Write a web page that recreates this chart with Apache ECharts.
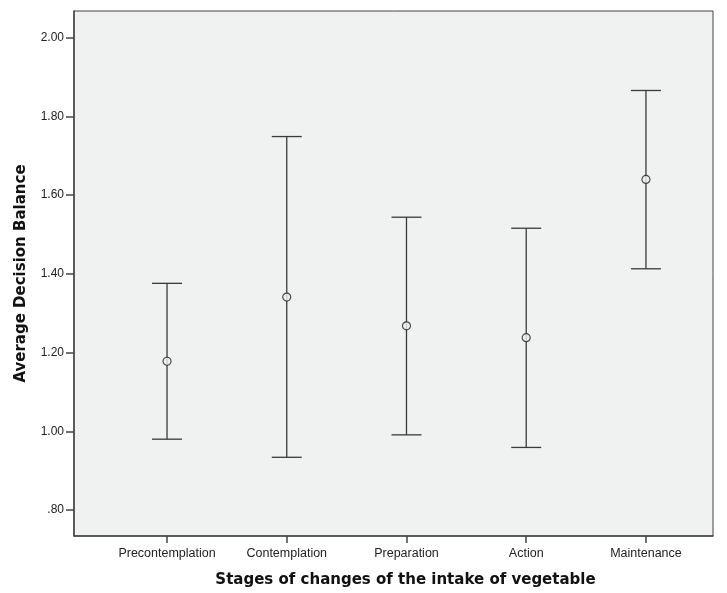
<!DOCTYPE html>
<html>
<head>
<meta charset="utf-8">
<script src="https://cdn.jsdelivr.net/npm/echarts@6/dist/echarts.min.js"></script>
<style>html,body{margin:0;padding:0;background:#fff;}#c{width:727px;height:593px;}</style>
</head>
<body>
<div id="c"></div>
<script>
const categories = ['Precontemplation', 'Contemplation', 'Preparation', 'Action', 'Maintenance'];
const means = [1.178, 1.341, 1.268, 1.238, 1.640];
const lower = [0.980, 0.934, 0.991, 0.959, 1.413];
const upper = [1.376, 1.749, 1.544, 1.516, 1.866];
const yTicks = [0.8, 1.0, 1.2, 1.4, 1.6, 1.8, 2.0];
const xTicks = [0, 1, 2, 3, 4];

const chart = echarts.init(document.getElementById('c'));
const lineColor = '#3a3a3a';
const errData = categories.map((c, i) => [i, lower[i], upper[i]]);
const meanData = categories.map((c, i) => [i, means[i]]);

chart.setOption({
  animation: false,
  grid: {
    left: 74, top: 11, right: 14, bottom: 55,
    show: true, backgroundColor: '#f0f1f1', borderColor: '#444', borderWidth: 1
  },
  xAxis: {
    type: 'value', min: -0.777, max: 4.56,
    splitLine: { show: false },
    axisLine: { show: true, onZero: false, lineStyle: { color: '#444', width: 1.5 } },
    axisTick: { show: true, customValues: xTicks, length: 7, lineStyle: { color: '#444', width: 1.5 } },
    axisLabel: {
      customValues: xTicks, color: '#222', fontSize: 12.5, fontFamily: 'Liberation Sans, Arial', margin: 11,
      formatter: v => categories[Math.round(v)]
    },
    name: 'Stages of changes of the intake of vegetable',
    nameLocation: 'middle', nameGap: 37,
    nameTextStyle: { fontSize: 15, fontWeight: 'bold', color: '#111', fontFamily: 'DejaVu Sans, Verdana', padding: [0, 0, 0, 24] }
  },
  yAxis: {
    type: 'value', min: 0.734, max: 2.068,
    splitLine: { show: false },
    axisLine: { show: true, onZero: false, lineStyle: { color: '#444', width: 1.5 } },
    axisTick: { show: true, customValues: yTicks, length: 8, lineStyle: { color: '#444', width: 1.5 } },
    axisLabel: {
      customValues: yTicks, color: '#222', fontSize: 12, fontFamily: 'Liberation Sans, Arial', margin: 10,
      formatter: v => { const s = v.toFixed(2); return s.startsWith('0') ? s.slice(1) : s; }
    },
    name: 'Average Decision Balance',
    nameLocation: 'middle', nameGap: 45,
    nameTextStyle: { fontSize: 15, fontWeight: 'bold', color: '#111', fontFamily: 'DejaVu Sans, Verdana' }
  },
  series: [
    {
      type: 'custom',
      data: errData,
      renderItem: function (params, api) {
        const x = api.value(0);
        const lo = api.coord([x, api.value(1)]);
        const hi = api.coord([x, api.value(2)]);
        const hw = 15;
        const st = { stroke: lineColor, lineWidth: 1.3, fill: null };
        return {
          type: 'group',
          children: [
            { type: 'line', shape: { x1: lo[0], y1: lo[1], x2: hi[0], y2: hi[1] }, style: st },
            { type: 'line', shape: { x1: lo[0] - hw, y1: lo[1], x2: lo[0] + hw, y2: lo[1] }, style: st },
            { type: 'line', shape: { x1: hi[0] - hw, y1: hi[1], x2: hi[0] + hw, y2: hi[1] }, style: st }
          ]
        };
      },
      z: 2
    },
    {
      type: 'scatter',
      data: meanData,
      symbol: 'circle',
      symbolSize: 8,
      itemStyle: { color: '#f0f1f1', borderColor: '#222', borderWidth: 1.2 },
      z: 3
    }
  ]
});
</script>
</body>
</html>
